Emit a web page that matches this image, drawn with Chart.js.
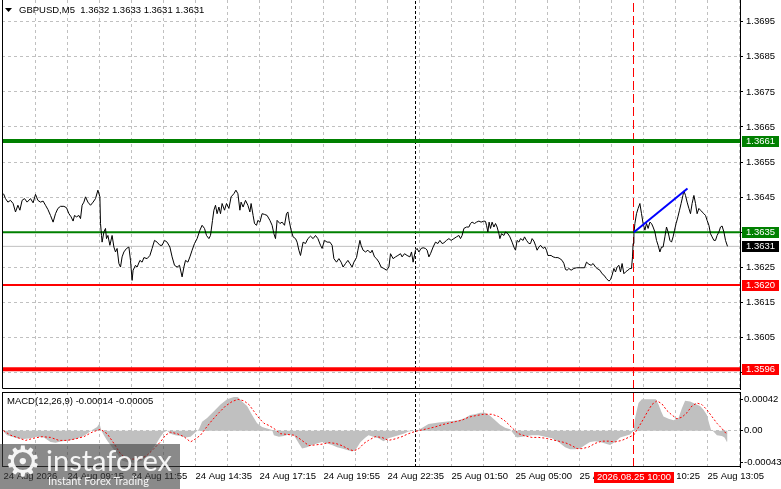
<!DOCTYPE html>
<html>
<head>
<meta charset="utf-8">
<script src="https://cdn.jsdelivr.net/npm/chart.js@4.4.1/dist/chart.umd.min.js"></script>
<style>
  html, body { margin: 0; padding: 0; background: #fff; width: 781px; height: 489px; overflow: hidden; }
  .pane { position: absolute; left: 0; width: 781px; }
  #wm { position: absolute; left: 0; top: 444px; width: 180px; height: 45px; background: rgba(60,60,60,0.6); color: rgba(255,255,255,0.92); overflow: hidden; }
  #wm .gear { position: absolute; left: 4px; top: -7px; font: 42px "DejaVu Sans", sans-serif; }
  #wm .brand { position: absolute; left: 46px; top: -2px; font: 29px Lato, "Open Sans", sans-serif; }
  #wm .tag { position: absolute; left: 48px; top: 30px; font: 11px Lato, "Open Sans", sans-serif; }
</style>
</head>
<body>
<div class="pane" style="top:0;height:390px"><canvas id="main"></canvas></div>
<div class="pane" style="top:390px;height:99px"><canvas id="macd"></canvas></div>
<div id="wm"><span class="gear">⚙</span><span class="brand">instaforex</span><span class="tag">Instant Forex Trading</span></div>
<script>
// chart data: x = bar number (M5 bars from the left edge), y = value
const symbol = 'GBPUSD,M5';
const ohlc = [1.3632, 1.3633, 1.3631, 1.3631];

const price = [
  [0,1.3646],[1,1.36446],[2.2,1.36436],[3.5,1.36441],[4.8,1.36432],[6,1.36408],[7.2,1.36427],[8.2,1.36413],
  [9.3,1.36441],[10.5,1.36446],[11.8,1.36436],[13.5,1.36446],[14.8,1.36434],[16,1.36458],[17.2,1.36441],
  [18.5,1.36436],[19.8,1.36439],[21,1.36427],[22.2,1.36415],[23.5,1.36398],[24.8,1.36379],[26,1.36403],
  [27.2,1.36418],[28.5,1.36424],[30.2,1.36424],[31.5,1.3642],[32.7,1.36403],[33.8,1.36394],[34.8,1.36382],
  [35.5,1.36398],[36.5,1.36394],[37.7,1.36398],[38.5,1.36389],[39.3,1.36427],[40.2,1.36436],[41,1.36451],
  [42.2,1.36436],[43.5,1.36427],[44.8,1.36436],[46,1.36446],[47.2,1.3647],[48.2,1.36451],[48.5,1.36375],
  [49,1.36341],[49.3,1.36322],[50.2,1.36351],[51,1.36361],[51.5,1.36332],[52.2,1.36341],[53.2,1.36313],
  [54.3,1.36341],[55.2,1.36308],[56,1.36294],[56.8,1.36304],[57.7,1.36261],[58.5,1.36251],[59.3,1.3628],
  [60.2,1.36294],[61.5,1.36304],[62.7,1.36308],[63.5,1.3627],[64.3,1.36213],[64.8,1.36242],[66,1.36256],
  [66.8,1.36251],[68.2,1.3627],[69.3,1.36265],[70.2,1.36278],[71.8,1.36275],[73.2,1.36284],[74.3,1.36304],
  [75.5,1.36327],[76.8,1.36322],[78.2,1.36313],[79.3,1.36313],[80.5,1.36327],[81.8,1.36322],[83.2,1.36308],
  [84.3,1.3628],[85.5,1.36256],[86.8,1.36251],[88,1.36256],[89.3,1.36223],[90.2,1.36251],[91,1.3627],
  [92.2,1.36265],[93.2,1.3628],[94.3,1.36299],[95.5,1.36318],[96.8,1.36332],[98.2,1.36356],[99.3,1.3637],
  [100.5,1.36361],[101.5,1.36341],[102.7,1.36332],[103.5,1.36341],[104.5,1.36384],[105.2,1.36413],[106,1.36427],
  [106.8,1.36403],[107.7,1.36422],[108.5,1.36403],[109.3,1.36432],[110.5,1.36413],[111.5,1.36432],[112.7,1.36418],
  [113.8,1.36451],[115.2,1.3646],[116.2,1.3647],[117.2,1.3646],[118.2,1.36413],[118.8,1.36436],[119.8,1.36422],
  [121,1.36441],[122.2,1.36427],[123.2,1.36408],[123.8,1.36432],[124.8,1.36398],[125.5,1.36375],[126.5,1.3637],
  [127.2,1.36384],[128.2,1.36379],[129.3,1.36403],[130.5,1.36401],[131.8,1.36398],[133.2,1.36384],[134.3,1.3637],
  [135.2,1.36346],[136,1.36332],[136.8,1.36384],[138.2,1.36375],[139.3,1.36379],[140.5,1.3637],[141.5,1.36403],
  [142.2,1.36408],[142.8,1.36384],[143.8,1.36356],[144.8,1.36337],[146,1.36332],[146.8,1.36322],[147.7,1.36299],
  [148.5,1.36284],[149.8,1.36322],[151,1.36318],[152.2,1.36332],[153.5,1.36339],[154.8,1.36332],[156,1.36341],
  [157.2,1.36332],[158.5,1.36313],[159.3,1.36304],[160.5,1.36327],[161.8,1.36322],[163.2,1.36322],[164.3,1.36313],
  [165.2,1.36275],[166.5,1.36265],[167.7,1.36275],[168.8,1.36265],[169.8,1.36251],[171,1.36261],[172.2,1.3627],
  [173.2,1.36261],[174.3,1.36251],[175.2,1.36265],[176.5,1.36278],[177.2,1.36299],[178.2,1.36327],[178.8,1.36313],
  [179.8,1.36299],[181,1.36294],[182.2,1.36299],[183.5,1.36291],[184.3,1.36299],[185.5,1.3628],[186.5,1.36275],
  [187.7,1.36265],[188.8,1.36251],[190.2,1.36247],[191.5,1.36242],[192.7,1.36251],[193.5,1.36289],[194.8,1.36275],
  [196,1.3628],[197.2,1.36284],[198.5,1.36289],[199.3,1.3628],[200.5,1.36289],[201.8,1.36284],[203.2,1.3628],
  [204,1.36294],[204.8,1.36265],[206,1.36299],[206.8,1.36304],[207.7,1.36294],[208.8,1.36304],[209.8,1.36306],
  [211,1.36304],[211.8,1.36299],[212.7,1.3628],[213.5,1.36289],[214.8,1.36308],[216,1.36322],[217.2,1.36318],
  [218.2,1.36327],[219.3,1.36318],[220.2,1.3632],[221.5,1.36327],[222.7,1.36332],[223.8,1.36327],[225.2,1.36332],
  [226.5,1.36337],[227.7,1.36341],[228.5,1.36332],[229.3,1.36341],[230.2,1.36361],[231.5,1.36365],[232.7,1.36365],
  [233.5,1.36375],[234.3,1.36379],[235.5,1.36375],[236.5,1.36379],[237.7,1.36382],[238.8,1.36379],[240.2,1.36382],
  [241,1.36381],[241.5,1.3637],[242.2,1.36351],[242.8,1.36379],[243.5,1.36361],[244.3,1.36379],[245.2,1.36365],
  [246,1.36375],[246.8,1.36365],[247.7,1.36346],[248.2,1.36332],[249,1.36346],[250.2,1.36341],[251,1.36351],
  [252.2,1.36346],[253.2,1.36337],[254.3,1.36322],[255.2,1.36308],[256,1.36299],[256.8,1.36327],[257.7,1.36322],
  [258.5,1.36332],[259.8,1.36327],[260.5,1.36337],[261.5,1.36327],[262.7,1.36318],[263.5,1.36318],[264.3,1.36332],
  [265.2,1.36325],[266,1.36313],[266.8,1.36299],[267.7,1.36308],[268.5,1.36313],[269.8,1.36304],[270.7,1.36308],
  [271.5,1.36299],[272.2,1.36284],[273.2,1.36284],[273.8,1.36284],[274.8,1.3628],[276,1.36278],[277.2,1.36278],
  [278.2,1.36275],[279.3,1.3627],[280.2,1.36261],[281,1.36244],[281.8,1.36242],[282.7,1.36247],[283.8,1.36242],
  [285.2,1.36247],[286.5,1.36249],[288.5,1.36249],[290.5,1.36249],[291.5,1.36265],[292.7,1.36259],[293.8,1.36256],
  [294.8,1.36261],[296,1.36251],[296.8,1.36247],[298.2,1.36242],[299.3,1.36232],[300.2,1.36228],[301.5,1.36218],
  [302.7,1.36211],[303.5,1.36215],[304.3,1.36228],[305.2,1.36247],[306,1.36237],[306.8,1.36251],[307.7,1.36256],
  [308.5,1.36237],[309.3,1.36261],[310.2,1.36232],[311,1.36237],[312.2,1.36242],[313.2,1.36247],[314,1.36247],
  [314.5,1.3628],[314.8,1.36318],[315.2,1.36346],[315.7,1.36375],[316.5,1.36403],[317.3,1.36418],[318.2,1.36432],
  [319,1.36403],[319.8,1.36375],[320.7,1.36356],[321.5,1.36375],[322.3,1.36361],[323.2,1.36379],[324,1.36375],
  [324.8,1.36365],[325.7,1.36351],[326.5,1.36327],[327.3,1.36313],[328.2,1.36294],[329,1.36308],[329.8,1.36308],
  [330.7,1.36337],[331.5,1.36365],[332.3,1.36351],[333.2,1.36327],[334,1.36322],[334.8,1.36337],[335.5,1.36356],
  [336.3,1.36375],[337.2,1.36394],[338,1.36413],[338.8,1.36432],[339.7,1.36455],[340.2,1.36468],[341,1.36455],
  [341.8,1.36436],[342.7,1.36418],[343.5,1.36403],[344.3,1.36432],[345.2,1.36455],[346,1.36432],[346.8,1.36403],
  [347.7,1.36418],[348.5,1.36413],[349.3,1.36408],[350.2,1.36403],[351,1.36398],[351.8,1.36384],[352.7,1.3637],
  [353.5,1.36346],[354.3,1.36337],[355.2,1.36327],[356,1.36327],[356.8,1.36341],[357.7,1.36351],[358.5,1.36365],
  [359.3,1.36368],[360.2,1.36351],[361,1.36327],[362,1.3631]
];

const resistance = [1.3661, 1.3635];
const support = [1.3620, 1.3596];
const lastPrice = 1.3631;
const trendLine = [[315.2, 1.3635], [342, 1.36475]];
const separatorBar = 206;
const markerBar = 315;
const markerLabel = '2026.08.25 10:00';

const priceTicks = [1.3595, 1.3605, 1.3615, 1.3625, 1.3635, 1.3645, 1.3655, 1.3665, 1.3675, 1.3685, 1.3695];
const macdTicks = [-0.00043, 0, 0.00042];
const timeBars = [0, 32, 64, 96, 128, 160, 192, 224, 256, 288, 320, 352];
const timeLabels = ['24 Aug 2026', '24 Aug 09:15', '24 Aug 11:55', '24 Aug 14:35', '24 Aug 17:15', '24 Aug 19:55',
  '24 Aug 22:35', '25 Aug 01:50', '25 Aug 05:00', '25 Aug 07:45', '25 Aug 10:25', '25 Aug 13:05'];

const macdTitle = 'MACD(12,26,9)';
const macdLast = [-0.00014, -0.00005];

const macdHist = [
  [0,-0.00001],[1.8,-0.00006],[4.3,-0.00008],[6.8,-0.0001],[10.2,-0.00011],[13.5,-0.0001],[16.8,-0.00008],
  [20.2,-0.00009],[23.5,-0.00015],[26,-0.00016],[29.3,-0.00014],[32.7,-0.00013],[36,-0.00011],[39.3,-0.00008],
  [41.8,-0.00004],[44.3,0.00001],[46.8,0.00005],[48,0.0001],[48.8,0.00001],[50.2,-0.00006],[51.8,-0.00013],
  [54.3,-0.00022],[56.8,-0.00031],[59.3,-0.0004],[62.7,-0.00043],[66,-0.00043],[69.3,-0.0004],[72.7,-0.00031],
  [76,-0.00019],[78.5,-0.00008],[80.2,-0.00002],[81.8,0],[83.5,-0.00004],[86,-0.00006],[88.5,-0.00007],
  [91,-0.00009],[93.5,-0.00008],[96,-0.00002],[97.7,0.00002],[99.3,0.00012],[101.8,0.00017],[105.2,0.00026],
  [108.5,0.00035],[111.8,0.00042],[115.2,0.00045],[117.2,0.00045],[119.3,0.00039],[121.8,0.00033],[124.3,0.00021],
  [126.8,0.0001],[129.3,0.00005],[131.8,0.00003],[134.3,0.00001],[135.2,-0.00006],[137.7,-0.00008],[140.2,-0.00007],
  [142.7,-0.00005],[145.2,-0.00006],[147.7,-0.00017],[149.3,-0.00024],[151.8,-0.00022],[154.3,-0.00019],
  [156.8,-0.00017],[159.3,-0.00015],[161.8,-0.00017],[164.3,-0.00019],[166.8,-0.00022],[169.3,-0.00024],
  [171.8,-0.00026],[174.3,-0.00028],[176,-0.00026],[178.5,-0.00015],[181,-0.00009],[182.5,-0.00006],
  [187.5,-0.0001],[190,-0.00014],[192.5,-0.0001],[195,-0.00008],[197.5,-0.00006],[200,-0.00004],[202.5,-0.00001],
  [205,0],[207.5,0.00001],[210,0.00005],[212.5,0.00009],[215,0.0001],[217.5,0.00011],[220.8,0.00012],
  [224.2,0.00013],[227.5,0.00014],[230.8,0.00017],[233.3,0.00021],[235.8,0.00022],[238.3,0.00024],[240.8,0.00024],
  [243.3,0.0002],[245.8,0.00014],[248.3,0.00008],[250.8,0.00004],[253.3,0.00002],[255,-0.00004],[256.7,-0.00009],
  [259.2,-0.00008],[261.7,-0.00007],[264.2,-0.00006],[267.5,-0.00006],[270.8,-0.00008],[274.2,-0.0001],
  [277.5,-0.00015],[280.8,-0.00022],[283.3,-0.00025],[285.8,-0.00025],[288.3,-0.00024],[290.8,-0.00019],
  [293.3,-0.00015],[295.8,-0.00014],[298.3,-0.00015],[300.8,-0.00017],[303.3,-0.00019],[305.8,-0.00015],
  [308.3,-0.00009],[310.8,-0.00007],[313.3,-0.00005],[315,0],[315.8,0.00017],[317.5,0.00037],[319.2,0.00042],
  [321.7,0.00042],[324.2,0.00042],[326.2,0.00042],[327.5,0.00035],[328.8,0.00026],[330,0.00019],[332.5,0.00016],
  [335,0.00014],[337.5,0.00017],[339.2,0.0003],[340.8,0.0004],[343.3,0.00039],[345.8,0.00036],[348.3,0.00033],
  [350,0.00028],[351.7,0.00021],[352.8,0.0001],[353.8,0.00001],[355,-0.00001],[356.7,-0.00006],[359.2,-0.00007],
  [360.5,-0.00009],[361.7,-0.00015],[362,-0.00014]
];

const macdSignal = [
  [0,0],[3.5,-0.00006],[6.8,-0.00009],[11,-0.00013],[15.2,-0.0001],[19.3,-0.00008],[23.5,-0.00009],[27.7,-0.00013],
  [31.8,-0.00013],[36,-0.00011],[40.2,-0.00008],[44.3,-0.00002],[48.5,0.00002],[51.8,-0.00004],[55.2,-0.00017],
  [58.5,-0.00031],[61.8,-0.00038],[65.2,-0.00038],[68.5,-0.00038],[71.8,-0.00033],[75.2,-0.00024],[78.5,-0.00015],
  [81,-0.00006],[83.5,-0.00002],[86.8,-0.00004],[90.2,-0.00008],[93.5,-0.00015],[96,-0.00011],[98.5,-0.00006],
  [101,0.00003],[104.3,0.00014],[107.7,0.00024],[111,0.00033],[114.3,0.00039],[117.2,0.00042],[120.2,0.0004],
  [122.7,0.00035],[125.2,0.00026],[127.7,0.00017],[130.2,0.0001],[132.7,0.00007],[135.2,0.00003],[138.5,-0.00004],
  [141.8,-0.00005],[145.2,-0.00006],[147.7,-0.0001],[150.2,-0.00015],[152.7,-0.0002],[156,-0.00019],[159.3,-0.00018],
  [162.7,-0.00016],[166,-0.00017],[169.3,-0.0002],[172.7,-0.00025],[175.2,-0.00027],[177.7,-0.00024],[180.2,-0.00017],
  [182.5,-0.00013],[185.8,-0.00008],[189.2,-0.00009],[192.5,-0.00013],[195.8,-0.00011],[199.2,-0.00008],
  [202.5,-0.00004],[205.8,-0.00001],[209.2,0.00001],[212.5,0.00003],[215.8,0.00005],[219.2,0.00008],[222.5,0.0001],
  [225.8,0.00012],[229.2,0.00014],[232.5,0.00018],[235.8,0.0002],[240,0.00022],[244.2,0.00022],[247.5,0.00019],
  [250.8,0.00013],[254.2,0.00004],[257.5,-0.00004],[260.8,-0.00007],[264.2,-0.00009],[267.5,-0.00009],
  [270.8,-0.0001],[274.2,-0.00012],[277.5,-0.00014],[280.8,-0.00016],[284.2,-0.0002],[286.7,-0.00024],
  [289.2,-0.00024],[292.5,-0.00022],[295.8,-0.00017],[299.2,-0.00014],[302.5,-0.00014],[305.8,-0.00015],
  [309.2,-0.00013],[312.5,-0.00009],[315,-0.00006],[316.7,0.00001],[319.2,0.00012],[321.7,0.00024],[324.2,0.00035],
  [326.7,0.0004],[329.2,0.00036],[331.7,0.00027],[334.2,0.00021],[336.7,0.00016],[339.2,0.00018],[341.7,0.00024],
  [344.2,0.00033],[346.7,0.00037],[349.2,0.00035],[351.7,0.00028],[354.2,0.00019],[356.7,0.0001],[359.2,0.00003],
  [361.7,-0.00005]
];

// layout
const X_MIN = -0.75, X_MAX = 368.25;
const P_MIN = 1.359036, P_MAX = 1.370118;
const M_MIN = -0.000486, M_MAX = 0.000518;
const GRID = '#c0c0c0';
const FONT = { family: '"Liberation Sans", Arial, sans-serif', size: 9.5 };
const FONT_CSS = '9.5px "Liberation Sans", Arial, sans-serif';

const gridBars = [];
for (let b = 0; b <= 368; b += 16) gridBars.push(b);

const flat = (v) => [[X_MIN, v], [X_MAX, v]];
const vline = (b, lo, hi) => [[b, lo], [b, hi]];
const line = (data, color, width, extra) => Object.assign({
  data, borderColor: color, borderWidth: width, pointRadius: 0, tension: 0, fill: false
}, extra || {});

const noPad = s => { s.paddingTop = 0; s.paddingBottom = 0; s.paddingLeft = 0; s.paddingRight = 0; };

const xScale = (withLabels) => ({
  type: 'linear', min: X_MIN, max: X_MAX, position: 'bottom',
  afterBuildTicks: s => { s.ticks = gridBars.map(v => ({ value: v })); },
  afterFit: s => { s.height = withLabels ? 22 : 0; noPad(s); },
  grid: { color: c => (c.tick && c.tick.value === 0) ? 'rgba(0,0,0,0)' : GRID, drawTicks: false },
  border: { display: false, dash: [3, 3] },
  ticks: withLabels ? {
    autoSkip: false, maxRotation: 0, minRotation: 0, align: 'start', padding: 4, color: '#000', font: FONT,
    callback: v => { const i = timeBars.indexOf(v); return i < 0 ? '' : timeLabels[i]; }
  } : { display: false }
});

const mainOverlay = {
  id: 'mainOverlay',
  afterDraw(chart) {
    const { ctx, chartArea: a, scales: { y } } = chart;
    ctx.save();
    ctx.strokeStyle = '#000';
    ctx.lineWidth = 1;
    ctx.beginPath();
    ctx.moveTo(a.left + 0.5, a.top);
    ctx.lineTo(a.left + 0.5, a.bottom - 0.5);
    ctx.lineTo(a.right + 0.5, a.bottom - 0.5);
    ctx.stroke();

    const boxes = [
      ...resistance.map(v => ({ v, c: '#008000' })),
      { v: lastPrice, c: '#000' },
      ...support.map(v => ({ v, c: '#ff0000' }))
    ];
    ctx.font = FONT_CSS;
    ctx.textBaseline = 'middle';
    boxes.forEach(b => {
      const py = Math.round(y.getPixelForValue(b.v));
      ctx.fillStyle = b.c;
      ctx.fillRect(a.right + 2, py - 5, 37, 11);
      ctx.fillStyle = '#fff';
      ctx.fillText(b.v.toFixed(4), a.right + 6, py + 0.5);
    });

    // title
    ctx.fillStyle = '#000';
    ctx.beginPath();
    ctx.moveTo(5, 8); ctx.lineTo(12, 8); ctx.lineTo(8.5, 12); ctx.closePath();
    ctx.fill();
    ctx.fillText(symbol + '  ' + ohlc.map(v => v.toFixed(4)).join(' '), 19, 10);
    ctx.restore();
  }
};

const macdOverlay = {
  id: 'macdOverlay',
  afterDraw(chart) {
    const { ctx, chartArea: a, scales: { x } } = chart;
    ctx.save();
    ctx.strokeStyle = '#000';
    ctx.lineWidth = 1;
    ctx.strokeRect(a.left + 0.5, a.top + 0.5, a.right - a.left, a.bottom - a.top - 1);
    ctx.font = FONT_CSS;
    ctx.textBaseline = 'middle';
    ctx.fillStyle = '#000';
    ctx.fillText(macdTitle + ' ' + macdLast.map(v => v.toFixed(5)).join(' '), 7, a.top + 9);

    const px = Math.round(x.getPixelForValue(markerBar));
    ctx.fillStyle = '#ff0000';
    ctx.fillRect(px - 40, a.bottom + 5, 80, 11);
    ctx.fillStyle = '#fff';
    ctx.textAlign = 'center';
    ctx.fillText(markerLabel, px, a.bottom + 10.5);
    ctx.restore();
  }
};

new Chart(document.getElementById('main'), {
  type: 'line',
  data: {
    datasets: [
      line(trendLine, '#0000ff', 2),
      line(price, '#000', 1),
      line(flat(resistance[1]), '#008000', 2),
      line(flat(lastPrice), GRID, 1),
      line(flat(support[0]), '#ff0000', 2),
      line(flat(resistance[0]), '#008000', 4),
      line(flat(support[1]), '#ff0000', 4),
      line(vline(markerBar, P_MIN, P_MAX), '#ff0000', 1, { borderDash: [9, 4] }),
      line(vline(separatorBar, P_MIN, P_MAX), '#000', 1, { borderDash: [3, 2] })
    ]
  },
  options: {
    responsive: true, maintainAspectRatio: false, animation: false, events: [],
    layout: { padding: { left: 2, top: 0, right: 0, bottom: 1 } },
    plugins: { legend: { display: false }, tooltip: { enabled: false } },
    scales: {
      x: xScale(false),
      y: {
        position: 'right', min: P_MIN, max: P_MAX,
        afterBuildTicks: s => { s.ticks = priceTicks.map(v => ({ value: v })); },
        afterFit: s => { s.width = 41; noPad(s); },
        grid: { color: GRID, drawTicks: true, tickLength: 3, tickColor: '#000', tickBorderDash: [] },
        border: { display: true, color: '#000', dash: [3, 3] },
        ticks: { color: '#000', font: FONT, padding: 3, autoSkip: false, callback: v => v.toFixed(4) }
      }
    }
  },
  plugins: [mainOverlay]
});

new Chart(document.getElementById('macd'), {
  type: 'line',
  data: {
    datasets: [
      line(macdSignal, '#ff0000', 1, { borderDash: [2, 2] }),
      line(macdHist, 'rgba(0,0,0,0)', 0, { fill: 'origin', backgroundColor: '#c0c0c0' }),
      line(vline(markerBar, M_MIN, M_MAX), '#ff0000', 1, { borderDash: [9, 4] }),
      line(vline(separatorBar, M_MIN, M_MAX), '#000', 1, { borderDash: [3, 2] })
    ]
  },
  options: {
    responsive: true, maintainAspectRatio: false, animation: false, events: [],
    layout: { padding: { left: 2, top: 2, right: 0, bottom: 0 } },
    plugins: { legend: { display: false }, tooltip: { enabled: false } },
    scales: {
      x: xScale(true),
      y: {
        position: 'right', min: M_MIN, max: M_MAX,
        afterBuildTicks: s => { s.ticks = macdTicks.map(v => ({ value: v })); },
        afterFit: s => { s.width = 41; noPad(s); },
        grid: { color: c => (c.tick && c.tick.value === 0) ? GRID : 'rgba(0,0,0,0)', drawTicks: true, tickLength: 3, tickColor: '#000', tickBorderDash: [] },
        border: { display: true, color: '#000', dash: [3, 3] },
        ticks: { color: '#000', font: FONT, padding: 1, autoSkip: false, callback: v => v === 0 ? '0.00' : v.toFixed(5) }
      }
    }
  },
  plugins: [macdOverlay]
});
</script>
</body>
</html>
